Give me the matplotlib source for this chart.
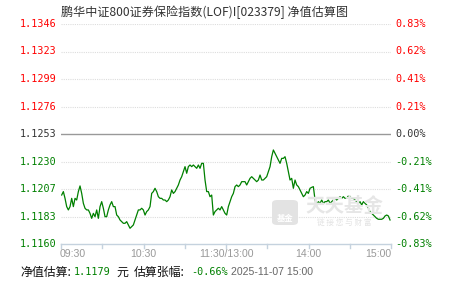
import matplotlib
matplotlib.use("Agg")
import matplotlib.pyplot as plt
import numpy as np
from matplotlib.patches import FancyBboxPatch

plt.rcParams['font.family'] = ['Noto Sans CJK SC', 'DejaVu Sans']

title = "鹏华中证800证券保险指数(LOF)I[023379] 净值估算图"
base = 1.1253
left_labels = ["1.1346", "1.1323", "1.1299", "1.1276", "1.1253", "1.1230", "1.1207", "1.1183", "1.1160"]
right_labels = ["0.83%", "0.62%", "0.41%", "0.21%", "0.00%", "-0.21%", "-0.41%", "-0.62%", "-0.83%"]
time_labels = ["09:30", "10:30", "11:30/13:00", "14:00", "15:00"]
est_value = "1.1179"
est_change = "-0.66%"
stamp = "2025-11-07 15:00"

values = [
    1.12014, 1.12043, 1.11986, 1.11916, 1.11888, 1.11916, 1.11986, 1.11916, 1.11986, 1.11972,
    1.12043, 1.12091, 1.12028, 1.11944, 1.11902, 1.11888, 1.11888, 1.11859, 1.11817, 1.11859,
    1.11831, 1.11888, 1.11817, 1.11916, 1.11958, 1.11902, 1.11831, 1.11831, 1.11888, 1.11930,
    1.11958, 1.11916, 1.11916, 1.11845, 1.11831, 1.11803, 1.11789, 1.11775, 1.11775, 1.11789,
    1.11761, 1.11733, 1.11747, 1.11761, 1.11803, 1.11845, 1.11888, 1.11888, 1.11902, 1.11888,
    1.11845, 1.11874, 1.11888, 1.11916, 1.12028, 1.12043, 1.12071, 1.12043, 1.12000, 1.11986,
    1.11986, 1.11972, 1.11972, 1.11958, 1.11972, 1.12000, 1.12057, 1.12028, 1.12043, 1.12071,
    1.12099, 1.12141, 1.12169, 1.12212, 1.12254, 1.12198, 1.12254, 1.12268, 1.12254, 1.12268,
    1.12254, 1.12240, 1.12268, 1.12240, 1.12282, 1.12282, 1.12141, 1.12043, 1.12043, 1.12000,
    1.12014, 1.11845, 1.11874, 1.11888, 1.11902, 1.11888, 1.11916, 1.11888, 1.11859, 1.11845,
    1.11916, 1.11958, 1.12000, 1.12028, 1.12085, 1.12099, 1.12085, 1.12099, 1.12127, 1.12127,
    1.12127, 1.12099, 1.12127, 1.12155, 1.12169, 1.12155, 1.12141, 1.12127, 1.12141, 1.12183,
    1.12141, 1.12141, 1.12155, 1.12169, 1.12212, 1.12254, 1.12338, 1.12395, 1.12367, 1.12338,
    1.12310, 1.12282, 1.12324, 1.12324, 1.12338, 1.12282, 1.12212, 1.12141, 1.12155, 1.12071,
    1.12141, 1.12099, 1.12085, 1.12057, 1.12028, 1.12000, 1.12014, 1.12043, 1.12028, 1.12071,
    1.12079, 1.12085, 1.11972, 1.11930, 1.11958, 1.11944, 1.11972, 1.11944, 1.11958, 1.11958,
    1.11972, 1.11944, 1.11958, 1.11972, 1.11986, 1.11972, 1.11986, 1.12000, 1.11986, 1.12000,
    1.11986, 1.11986, 1.12006, 1.12000, 1.11986, 1.11986, 1.11972, 1.11958, 1.11944, 1.11958,
    1.11930, 1.11958, 1.11944, 1.11930, 1.11902, 1.11874, 1.11859, 1.11845, 1.11831, 1.11817,
    1.11809, 1.11809, 1.11809, 1.11817, 1.11837, 1.11845, 1.11837, 1.11803,
]

W, H = 451, 281
fig = plt.figure(figsize=(W / 100, H / 100), dpi=100)
fig.patch.set_facecolor("white")

L, R, T, B = 61, 391, 24, 244
ax = fig.add_axes([L / W, 1 - B / H, (R - L) / W, (B - T) / H])
ax.set_facecolor("none")

total_min = 240
t = np.linspace(0.5, 239.3, len(values))
ymin, ymax = float(left_labels[-1]), float(left_labels[0])
ax.set_xlim(0, total_min)
ax.set_ylim(ymin, ymax)

levels = np.linspace(ymax, ymin, len(left_labels))
red, green, dark = "#ff0000", "#008000", "#333333"
mono = "DejaVu Sans Mono"
for i, lv in enumerate(levels):
    if i == 4:
        ax.axhline(lv, color="#999999", lw=1.0, zorder=1)
        c = dark
    else:
        if i != len(levels) - 1:
            ax.axhline(lv, color="#dddddd", lw=0.8, ls=(0, (1, 1)), zorder=1)
        c = red if i < 4 else green
    ax.text(-0.012, lv, left_labels[i], transform=ax.get_yaxis_transform(), ha="right", va="center",
            fontsize=7.3, color=c, family=mono)
    ax.text(1.012, lv, right_labels[i], transform=ax.get_yaxis_transform(), ha="left", va="center",
            fontsize=7.3, color=c, family=mono)

# bottom axis
axis_c = "#c5d2de"
ax.axhline(ymin, color=axis_c, lw=1.0, zorder=2, clip_on=False)
for m in range(0, total_min + 1, 30):
    ax.plot([m, m], [0, -0.018], transform=ax.get_xaxis_transform(), color=axis_c, lw=1.0, clip_on=False)

for i, lab in enumerate(time_labels):
    m = i * 60
    ha = "left" if i == 0 else ("right" if i == len(time_labels) - 1 else "center")
    off = -1 if i == 0 else 0
    ax.text(m + off, -0.047, lab, transform=ax.get_xaxis_transform(), ha=ha, va="center",
            fontsize=7.6, color="#999999", family="Liberation Sans")

for s in ax.spines.values():
    s.set_visible(False)
ax.set_xticks([])
ax.set_yticks([])

# watermark
icon = FancyBboxPatch((272 / W, 1 - 225 / H), 26 / W, 25 / H, boxstyle="round,pad=0,rounding_size=0.012",
                      transform=fig.transFigure, facecolor="#e3e3e3", edgecolor="none", zorder=0)
fig.patches.append(icon)
fig.text(285 / W, 1 - 219 / H, "基金", ha="center", va="center", fontsize=6, color="white", weight="bold")
fig.text(344 / W, 1 - 206 / H, "天天基金", ha="center", va="center", fontsize=14, color="#e6e6e6",
         weight="bold", zorder=0)
fig.text(344 / W, 1 - 223 / H, "链 接 您 与 财 富", ha="center", va="center", fontsize=5.5, color="#e3e3e3", zorder=0)

ax.plot(t, values, color="#008000", lw=0.9, zorder=3)

# title
fig.text(205 / W, 1 - 12 / H, title, ha="center", va="center", fontsize=8.7, color="#333333")

# footer
fy = 1 - 272 / H
fig.text(20 / W, fy, "净值估算:", ha="left", va="center", fontsize=8.6, color="#111111")
fig.text(74 / W, fy, est_value, ha="left", va="center", fontsize=7.3, color=green, family=mono)
fig.text(116 / W, fy, "元", ha="left", va="center", fontsize=8.6, color="#111111")
fig.text(134 / W, fy, "估算张幅:", ha="left", va="center", fontsize=8.6, color="#111111")
fig.text(191 / W, fy, est_change, ha="left", va="center", fontsize=7.3, color=green, family=mono)
fig.text(231 / W, fy, stamp, ha="left", va="center", fontsize=7.6, color="#666666", family="Liberation Sans")

fig.savefig("out.png", dpi=100, facecolor="white")
